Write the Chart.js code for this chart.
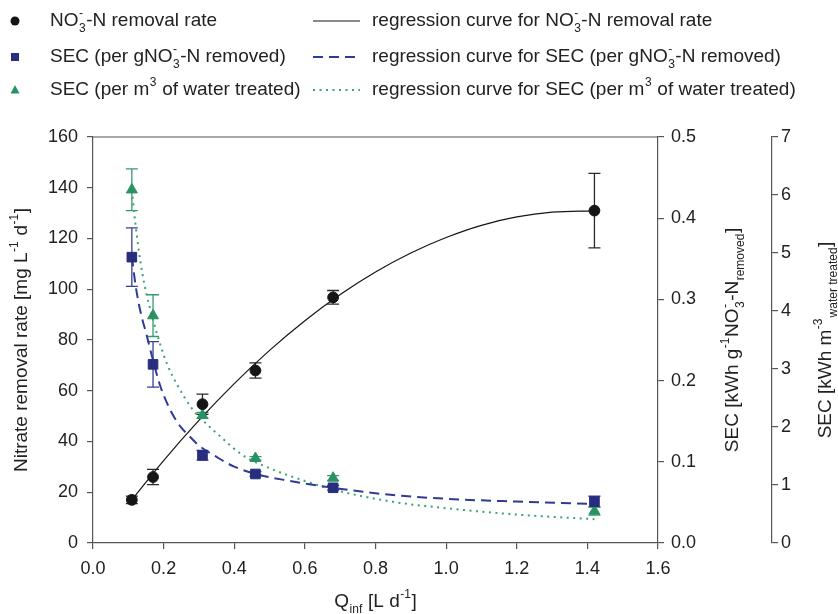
<!DOCTYPE html>
<html>
<head>
<meta charset="utf-8">
<title>Nitrate removal rate and SEC vs Qinf</title>
<script src="https://cdn.jsdelivr.net/npm/chart.js@4/dist/chart.umd.min.js"></script>
<style>
  html, body { margin: 0; padding: 0; background: #fff; }
  #wrap { width: 838px; height: 614px; }
</style>
</head>
<body>
<div id="wrap"><canvas id="chart" width="838" height="614"></canvas></div>
<script>
// measured points (x = Qinf in L/d)
const flowRate = [0.11, 0.17, 0.31, 0.46, 0.68, 1.42];
const removalRate = [17, 26, 54.7, 68, 96.8, 131];
const removalErr = [1.5, 3, 4, 3, 2.7, 14.7];
const secPerGram = [0.352, 0.220, 0.108, 0.085, 0.068, 0.051];
const secPerGramErr = [0.036, 0.028, 0.006, 0.003, 0.003, 0.0066];
const secPerVolume = [6.09, 3.92, 2.2, 1.46, 1.12, 0.55];
const secPerVolumeErr = [0.36, 0.36, 0.05, 0.03, 0.04, 0.07];

// regression curves
const rateFitX = [0.11, 0.2, 0.3, 0.4, 0.5, 0.6, 0.7, 0.8, 0.9, 1.0, 1.1, 1.2, 1.3, 1.42];
const rateFitY = [17, 32.5, 48.3, 62.8, 75.9, 87.6, 97.9, 106.8, 114.3, 120.4, 125.2, 128.5, 130.4, 130.9];
const gramFitX = [0.11, 0.12, 0.13, 0.14, 0.15, 0.17, 0.19, 0.21, 0.23, 0.25, 0.27, 0.3, 0.35, 0.4, 0.47, 0.55, 0.68, 0.85, 1.02, 1.2, 1.42];
const gramFitY = [0.353, 0.319, 0.294, 0.275, 0.259, 0.225, 0.194, 0.172, 0.155, 0.142, 0.133, 0.120, 0.106, 0.094, 0.084, 0.077, 0.068, 0.059, 0.054, 0.051, 0.048];
const volFitX = [0.11, 0.12, 0.13, 0.14, 0.15, 0.17, 0.19, 0.21, 0.24, 0.28, 0.31, 0.36, 0.42, 0.5, 0.6, 0.68, 0.85, 1.0, 1.2, 1.42];
const volFitY = [6.08, 5.51, 5.03, 4.64, 4.33, 3.85, 3.43, 3.08, 2.71, 2.32, 2.12, 1.84, 1.53, 1.29, 1.07, 0.92, 0.71, 0.60, 0.49, 0.41];

// axis ranges
const xTicks = { min: 0, max: 1.6, step: 0.2 };
const rateTicks = { min: 0, max: 160, step: 20 };
const gramTicks = { min: 0, max: 0.5, step: 0.1 };
const volTicks = { min: 0, max: 7, step: 1 };

const FONT = "'Liberation Sans', Arial, Helvetica, sans-serif";
const AXIS = '#555';
const TEXT = '#222';
const BLACK = '#151515';
const BLUE = '#282d7e';
const BLUE_LINE = '#2f3b94';
const GREEN = '#2a9262';
const GREEN_LINE = '#3ba372';

function pts(xs, ys) {
    return xs.map((x, i) => ({ x: x, y: ys[i] }));
}

// rich text: parts are {t}, {sub}, {sup} or {sub, sup} stacked
function richWidth(ctx, parts, size) {
    let w = 0;
    parts.forEach(p => {
        if (p.t !== undefined) {
            ctx.font = size + 'px ' + FONT;
            w += ctx.measureText(p.t).width;
        } else {
            ctx.font = Math.round(size * 0.65) + 'px ' + FONT;
            const a = p.sub ? ctx.measureText(p.sub).width : 0;
            const b = p.sup ? ctx.measureText(p.sup).width : 0;
            w += Math.max(a, b) + 1;
        }
    });
    return w;
}

function drawRich(ctx, parts, x, y, size, align) {
    let cx = align === 'center' ? x - richWidth(ctx, parts, size) / 2 : x;
    ctx.textBaseline = 'middle';
    ctx.textAlign = 'left';
    parts.forEach(p => {
        if (p.t !== undefined) {
            ctx.font = size + 'px ' + FONT;
            ctx.fillText(p.t, cx, y);
            cx += ctx.measureText(p.t).width;
        } else {
            ctx.font = Math.round(size * 0.65) + 'px ' + FONT;
            let w = 0;
            if (p.sub) {
                ctx.fillText(p.sub, cx + 0.5, y + size * 0.38);
                w = ctx.measureText(p.sub).width;
            }
            if (p.sup) {
                ctx.fillText(p.sup, cx + 0.5, y - size * 0.36);
                w = Math.max(w, ctx.measureText(p.sup).width);
            }
            cx += w + 1;
        }
    });
}

function marker(ctx, type, x, y, r, color) {
    ctx.fillStyle = color;
    ctx.beginPath();
    if (type === 'circle') {
        ctx.arc(x, y, r, 0, Math.PI * 2);
    } else if (type === 'rect') {
        ctx.rect(x - r, y - r, r * 2, r * 2);
    } else {
        ctx.moveTo(x, y - r * 1.1);
        ctx.lineTo(x + r, y + r * 0.75);
        ctx.lineTo(x - r, y + r * 0.75);
        ctx.closePath();
    }
    ctx.fill();
}

const errorSeries = [
    { axis: 'y', values: removalRate, errs: removalErr, color: '#2a2a2a' },
    { axis: 'y1', values: secPerGram, errs: secPerGramErr, color: '#3a3f92' },
    { axis: 'y2', values: secPerVolume, errs: secPerVolumeErr, color: '#379a6c' }
];

const errorBars = {
    id: 'errorBars',
    beforeDatasetsDraw(chart) {
        const ctx = chart.ctx;
        const xs = chart.scales.x;
        ctx.save();
        ctx.lineWidth = 1.3;
        errorSeries.forEach(s => {
            const ys = chart.scales[s.axis];
            ctx.strokeStyle = s.color;
            flowRate.forEach((q, i) => {
                const px = xs.getPixelForValue(q);
                const top = ys.getPixelForValue(s.values[i] + s.errs[i]);
                const bot = ys.getPixelForValue(s.values[i] - s.errs[i]);
                ctx.beginPath();
                ctx.moveTo(px, top); ctx.lineTo(px, bot);
                ctx.moveTo(px - 6, top); ctx.lineTo(px + 6, top);
                ctx.moveTo(px - 6, bot); ctx.lineTo(px + 6, bot);
                ctx.stroke();
            });
        });
        ctx.restore();
    }
};

const decorations = {
    id: 'decorations',
    afterDraw(chart) {
        const ctx = chart.ctx;
        const area = chart.chartArea;
        ctx.save();
        // top frame line
        ctx.strokeStyle = AXIS;
        ctx.lineWidth = 1.2;
        ctx.beginPath();
        ctx.moveTo(area.left, area.top);
        ctx.lineTo(area.right, area.top);
        ctx.stroke();

        ctx.fillStyle = TEXT;
        const midY = (area.top + area.bottom) / 2;

        // x axis title
        drawRich(ctx, [{ t: 'Q' }, { sub: 'inf' }, { t: ' [L d' }, { sup: '-1' }, { t: ']' }],
            (area.left + area.right) / 2, 602, 19, 'center');

        // left title
        ctx.save();
        ctx.translate(22, midY);
        ctx.rotate(-Math.PI / 2);
        drawRich(ctx, [{ t: 'Nitrate removal rate [mg L' }, { sup: '-1' }, { t: ' d' }, { sup: '-1' }, { t: ']' }],
            0, 0, 19, 'center');
        ctx.restore();

        // right title 1
        ctx.save();
        ctx.translate(733, midY);
        ctx.rotate(-Math.PI / 2);
        drawRich(ctx, [{ t: 'SEC [kWh g' }, { sup: '-1' }, { t: 'NO' }, { sub: '3', sup: '-' },
            { t: '-N' }, { sub: 'removed' }, { t: ']' }], 0, 0, 19, 'center');
        ctx.restore();

        // right title 2
        ctx.save();
        ctx.translate(826, midY);
        ctx.rotate(-Math.PI / 2);
        drawRich(ctx, [{ t: 'SEC [kWh m' }, { sup: '-3' }, { sub: 'water treated' }, { t: ']' }],
            0, 0, 19, 'center');
        ctx.restore();

        // legend
        const rows = [21, 57, 90];
        marker(ctx, 'circle', 15, rows[0], 4.5, BLACK);
        marker(ctx, 'rect', 15, rows[1], 4, BLUE);
        marker(ctx, 'triangle', 15, rows[2], 4.5, GREEN);
        ctx.fillStyle = TEXT;
        drawRich(ctx, [{ t: 'NO' }, { sub: '3', sup: '-' }, { t: '-N removal rate' }], 50, rows[0], 19, 'left');
        drawRich(ctx, [{ t: 'SEC (per gNO' }, { sub: '3', sup: '-' }, { t: '-N removed)' }], 50, rows[1], 19, 'left');
        drawRich(ctx, [{ t: 'SEC (per m' }, { sup: '3' }, { t: ' of water treated)' }], 50, rows[2], 19, 'left');

        const lines = [
            { color: BLACK, width: 1.2, dash: [] },
            { color: BLUE_LINE, width: 2, dash: [10, 6] },
            { color: GREEN_LINE, width: 2, dash: [2, 4.5] }
        ];
        lines.forEach((l, i) => {
            ctx.strokeStyle = l.color;
            ctx.lineWidth = l.width;
            ctx.setLineDash(l.dash);
            ctx.beginPath();
            ctx.moveTo(313, rows[i]);
            ctx.lineTo(360, rows[i]);
            ctx.stroke();
        });
        ctx.setLineDash([]);
        ctx.fillStyle = TEXT;
        drawRich(ctx, [{ t: 'regression curve for NO' }, { sub: '3', sup: '-' }, { t: '-N removal rate' }], 372, rows[0], 19, 'left');
        drawRich(ctx, [{ t: 'regression curve for SEC (per gNO' }, { sub: '3', sup: '-' }, { t: '-N removed)' }], 372, rows[1], 19, 'left');
        drawRich(ctx, [{ t: 'regression curve for SEC (per m' }, { sup: '3' }, { t: ' of water treated)' }], 372, rows[2], 19, 'left');
        ctx.restore();
    }
};

function yAxis(range, position, width, pad, weight, digits) {
    return {
        type: 'linear',
        position: position,
        weight: weight,
        min: range.min,
        max: range.max,
        ticks: {
            stepSize: range.step,
            autoSkip: false,
            padding: pad,
            color: TEXT,
            font: { family: FONT, size: 18 },
            callback: v => digits ? v.toFixed(digits) : String(Math.round(v))
        },
        grid: { drawOnChartArea: false, tickLength: 6, color: AXIS, lineWidth: 1.2 },
        border: { color: AXIS, width: 1.2 },
        afterFit: scale => { scale.width = width; }
    };
}

function fitLine(data, axis, color, width, dash) {
    return {
        data: data,
        yAxisID: axis,
        showLine: true,
        borderColor: color,
        borderWidth: width,
        borderDash: dash,
        pointRadius: 0,
        fill: false,
        cubicInterpolationMode: 'monotone',
        order: 2
    };
}

function markers(data, axis, style, radius, color) {
    return {
        data: data,
        yAxisID: axis,
        showLine: false,
        pointStyle: style,
        pointRadius: radius,
        pointBackgroundColor: color,
        pointBorderColor: color,
        pointBorderWidth: 1,
        order: 1
    };
}

new Chart(document.getElementById('chart'), {
    type: 'scatter',
    data: {
        datasets: [
            fitLine(pts(rateFitX, rateFitY), 'y', BLACK, 1.2, []),
            fitLine(pts(gramFitX, gramFitY), 'y1', BLUE_LINE, 2, [10, 6]),
            fitLine(pts(volFitX, volFitY), 'y2', GREEN_LINE, 2, [2, 4.5]),
            markers(pts(flowRate, removalRate), 'y', 'circle', 5.4, BLACK),
            markers(pts(flowRate, secPerGram), 'y1', 'rect', 6.8, BLUE),
            markers(pts(flowRate, secPerVolume), 'y2', 'triangle', 6.3, GREEN)
        ]
    },
    options: {
        responsive: false,
        animation: false,
        devicePixelRatio: 1,
        layout: { padding: { top: 137, left: 0, right: 0, bottom: 0 } },
        plugins: { legend: { display: false }, tooltip: { enabled: false } },
        scales: {
            x: {
                type: 'linear',
                position: 'bottom',
                min: xTicks.min,
                max: xTicks.max,
                ticks: {
                    stepSize: xTicks.step,
                    autoSkip: false,
                    padding: 9,
                    color: TEXT,
                    font: { family: FONT, size: 18 },
                    callback: v => v.toFixed(1)
                },
                grid: { drawOnChartArea: false, tickLength: 6, color: AXIS, lineWidth: 1.2 },
                border: { color: AXIS, width: 1.2 },
                afterFit: scale => { scale.height = 71; }
            },
            y: yAxis(rateTicks, 'left', 93, 9, 0, 0),
            y1: yAxis(gramTicks, 'right', 114, 7, 1, 1),
            y2: yAxis(volTicks, 'right', 66, 3, 2, 0)
        }
    },
    plugins: [errorBars, decorations]
});
</script>
</body>
</html>
